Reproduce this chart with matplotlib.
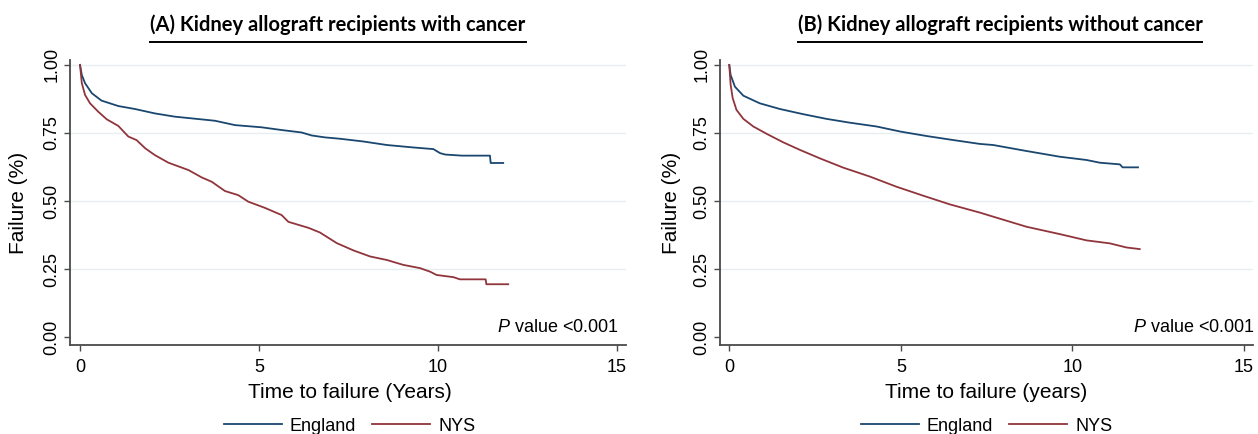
import matplotlib
matplotlib.use("Agg")
import matplotlib.pyplot as plt
from matplotlib.lines import Line2D

# Kaplan-Meier style curves (years, proportion)
a_england_t = [0, 0.05, 0.14, 0.33, 0.6, 1.07, 1.54, 2.09, 2.65, 3.4, 3.77, 4.33, 5.07, 5.63,
               6.19, 6.47, 6.84, 7.26, 7.91, 8.57, 9.31, 9.87, 10.06, 10.2, 10.67, 11.45, 11.47, 11.82]
a_england_s = [1.0, 0.963, 0.933, 0.896, 0.869, 0.849, 0.838, 0.822, 0.810, 0.800, 0.795, 0.779, 0.771, 0.761,
               0.752, 0.741, 0.734, 0.729, 0.719, 0.706, 0.697, 0.691, 0.676, 0.671, 0.667, 0.667, 0.640, 0.640]

a_nys_t = [0, 0.05, 0.14, 0.28, 0.51, 0.75, 1.07, 1.35, 1.58, 1.82, 2.09, 2.47, 3.03, 3.4, 3.68,
           4.05, 4.42, 4.7, 5.17, 5.63, 5.82, 6.38, 6.7, 7.17, 7.64, 8.1, 8.57, 9.03, 9.5, 9.78,
           9.96, 10.43, 10.61, 11.33, 11.35, 11.96]
a_nys_s = [1.0, 0.933, 0.890, 0.859, 0.828, 0.800, 0.776, 0.737, 0.724, 0.694, 0.669, 0.641, 0.614, 0.587, 0.571,
           0.537, 0.522, 0.498, 0.475, 0.449, 0.424, 0.402, 0.385, 0.346, 0.319, 0.297, 0.284, 0.266, 0.254, 0.241,
           0.229, 0.221, 0.213, 0.213, 0.195, 0.195]

b_england_t = [0, 0.04, 0.165, 0.41, 0.89, 1.48, 2.16, 2.83, 3.51, 4.29, 5.0, 5.75, 6.43, 7.3,
               7.69, 8.66, 9.63, 10.41, 10.8, 11.38, 11.46, 11.91]
b_england_s = [1.0, 0.963, 0.920, 0.887, 0.859, 0.838, 0.819, 0.802, 0.788, 0.774, 0.755, 0.739, 0.726, 0.710,
               0.706, 0.684, 0.663, 0.651, 0.641, 0.635, 0.624, 0.624]

b_nys_t = [0, 0.04, 0.10, 0.21, 0.41, 0.70, 1.09, 1.57, 2.06, 2.64, 3.32, 4.10, 4.87, 5.65, 6.43,
           7.3, 7.69, 8.66, 9.63, 10.41, 11.09, 11.57, 11.96]
b_nys_s = [1.0, 0.927, 0.878, 0.835, 0.802, 0.774, 0.747, 0.716, 0.688, 0.657, 0.623, 0.590, 0.553, 0.520, 0.488,
           0.458, 0.443, 0.406, 0.379, 0.356, 0.345, 0.330, 0.324]

x_ticks = [0, 5, 10, 15]
y_ticks = [0.0, 0.25, 0.5, 0.75, 1.0]
series_names = ["England", "NYS"]
titles = ["(A) Kidney allograft recipients with cancer", "(B) Kidney allograft recipients without cancer"]
x_labels = ["Time to failure (Years)", "Time to failure (years)"]
p_text = r"$\it{P}$ value <0.001"

BLUE = "#1a476f"
RED = "#90353b"
GRID = "#e6eef0"
AXIS = "#4a4a4a"

plt.rcParams["font.family"] = ["Liberation Sans", "DejaVu Sans"]
plt.rcParams["mathtext.fontset"] = "custom"
plt.rcParams["mathtext.it"] = "Liberation Sans:italic"

W, H = 1258, 434
fig = plt.figure(figsize=(W / 100, H / 100), dpi=100)

# axes rectangles in pixels: left, right, bottom, top
boxes = [(70, 626, 345, 60), (720, 1253, 345, 60)]
xlims = [(-0.28, 15.25), (-0.27, 15.26)]
title_x = [338, 1000]
ylabel_x = [-0.076, -0.073]
center_x = [0.503, 0.5]
p_x = [0.987, 1.004]
curves = [((a_england_t, a_england_s), (a_nys_t, a_nys_s)),
          ((b_england_t, b_england_s), (b_nys_t, b_nys_s))]

title_objs = []
for i in range(2):
    l, r, b, t = boxes[i]
    ax = fig.add_axes([l / W, 1 - b / H, (r - l) / W, (b - t) / H])
    (et, es), (nt, ns) = curves[i]
    h1, = ax.plot(et, es, color=BLUE, lw=1.3, label=series_names[0])
    h2, = ax.plot(nt, ns, color=RED, lw=1.3, label=series_names[1])

    ax.set_xlim(*xlims[i])
    ax.set_ylim(-0.028, 1.018)
    ax.set_xticks(x_ticks)
    ax.set_yticks(y_ticks)
    ax.set_yticklabels([f"{v:.2f}" for v in y_ticks], rotation=90, va="center")
    ax.tick_params(axis="both", labelsize=13, length=4, width=1, color=AXIS, direction="out")
    ax.tick_params(axis="y", pad=3)
    ax.tick_params(axis="x", pad=6)

    for v in y_ticks[1:]:
        ax.axhline(v, color=GRID, lw=1, zorder=0)

    ax.spines["top"].set_visible(False)
    ax.spines["right"].set_visible(False)
    for s in ["left", "bottom"]:
        ax.spines[s].set_color(AXIS)
        ax.spines[s].set_linewidth(1.3)

    ax.set_ylabel("Failure (%)", fontsize=15)
    ax.yaxis.set_label_coords(ylabel_x[i], 0.5)
    ax.set_xlabel(x_labels[i], fontsize=15)
    ax.xaxis.set_label_coords(center_x[i], -0.133)

    ax.text(p_x[i], 0.044, p_text, transform=ax.transAxes,
            ha="right", va="baseline", fontsize=13)

    ax.legend(handles=[h1, h2], loc="center", bbox_to_anchor=(center_x[i], -0.285),
              ncol=2, frameon=False, fontsize=13, handlelength=3.2, handletextpad=0.45,
              columnspacing=0.9)

    tt = fig.text(title_x[i] / W, 1 - 25 / H, titles[i], ha="center", va="center",
                  fontsize=14.5, fontweight="bold", family=["Lato", "DejaVu Sans"])
    title_objs.append(tt)

# underline the titles
fig.canvas.draw()
renderer = fig.canvas.get_renderer()
for tt in title_objs:
    bb = tt.get_window_extent(renderer)
    y = 1 - 41.7 / H
    fig.add_artist(Line2D([bb.x0 / W, bb.x1 / W], [y, y], transform=fig.transFigure,
                          color="black", lw=1.4))

fig.savefig("out.png", dpi=100)
